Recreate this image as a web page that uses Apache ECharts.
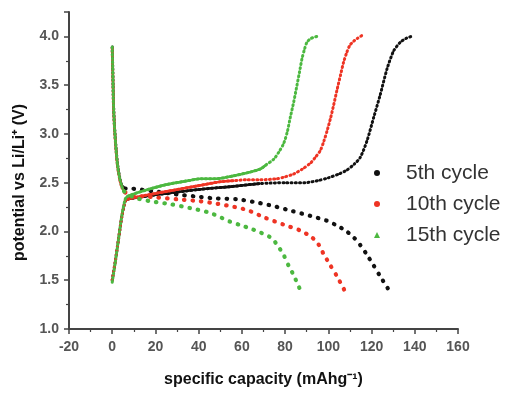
<!DOCTYPE html>
<html>
<head>
<meta charset="utf-8">
<script src="https://cdn.jsdelivr.net/npm/echarts@6/dist/echarts.min.js"></script>
<style>
html,body{margin:0;padding:0;background:#fff;}
#chart{width:513px;height:393px;}
</style>
</head>
<body>
<div id="chart"></div>
<script>
// ---- data (specific capacity mAh/g, potential V) ----
var cycleNames = ['5th cycle', '10th cycle', '15th cycle'];
var cycleColors = ['#111111', '#ee3424', '#4cb840'];
var legendIcons = ['circle', 'circle', 'triangle'];

var charge5 = [[0,1.50],[1.4,1.69],[2.9,1.92],[4.5,2.16],[6,2.31],[7,2.33],[15,2.36],[25,2.39],[40,2.43],[55,2.46],[68,2.49],[80,2.50],[89,2.50],[95,2.52],[100,2.55],[105,2.59],[108.6,2.63],[112,2.69],[114.8,2.76],[117.9,2.93],[121,3.17],[124,3.40],[127.2,3.67],[130.2,3.85],[133.3,3.94],[136,3.98],[138.5,4.00]];
var charge10 = [[0,1.50],[1.4,1.69],[2.9,1.92],[4.5,2.16],[6,2.31],[7,2.33],[20,2.39],[30,2.43],[40,2.47],[50,2.51],[56,2.52],[62,2.53],[68.5,2.53],[76,2.54],[80,2.56],[84,2.59],[88,2.64],[91.7,2.70],[94,2.76],[96.3,2.83],[98,2.93],[99.4,3.03],[101,3.16],[102.5,3.30],[104,3.45],[105.6,3.60],[107,3.73],[108.6,3.84],[110,3.91],[111.7,3.95],[113.5,3.98],[115.6,4.01]];
var charge15 = [[0,1.48],[1.4,1.68],[2.9,1.92],[4.5,2.17],[6,2.33],[7,2.36],[15,2.42],[25,2.48],[35,2.52],[41,2.54],[48,2.54],[56,2.57],[64,2.61],[68.5,2.64],[71,2.68],[74.7,2.74],[77,2.81],[79.3,2.90],[81,3.02],[82.4,3.17],[84,3.33],[85.5,3.50],[86.7,3.64],[87.8,3.77],[89,3.87],[90.1,3.94],[92,3.98],[94.8,4.00]];

var dischargeStart5 = [[0,3.89],[0.2,3.70],[0.4,3.50],[0.6,3.30],[1.0,3.10],[1.6,2.90],[2.4,2.70],[3.4,2.56],[4.5,2.47],[6,2.44]];
var dischargeStart10 = [[0,3.88],[0.2,3.68],[0.4,3.48],[0.6,3.28],[1.0,3.08],[1.6,2.88],[2.4,2.68],[3.4,2.54],[4.5,2.45],[6,2.40]];
var dischargeStart15 = [[0,3.89],[0.2,3.69],[0.4,3.49],[0.6,3.29],[1.0,3.09],[1.6,2.89],[2.4,2.69],[3.4,2.55],[4.5,2.46],[5.5,2.41]];

var discharge5 = [[6,2.44],[8.3,2.44],[13,2.43],[20,2.41],[30,2.38],[38,2.36],[47,2.34],[57.7,2.33],[66.2,2.30],[74.7,2.26],[83.2,2.21],[91.7,2.16],[99.4,2.11],[104,2.06],[107.9,2.01],[111.7,1.94],[114.8,1.86],[117.9,1.76],[121,1.65],[124,1.54],[128,1.40]];
var discharge10 = [[6,2.40],[10,2.37],[20,2.35],[30,2.33],[40.7,2.31],[47,2.29],[54.6,2.26],[62.4,2.22],[70.8,2.14],[79.3,2.07],[87,2.01],[91.7,1.95],[94.8,1.89],[97.8,1.77],[101,1.65],[104,1.54],[107.4,1.40]];
var discharge15 = [[5.5,2.41],[10,2.35],[17.6,2.31],[26.9,2.28],[36,2.24],[45.4,2.19],[54.6,2.10],[60,2.06],[64,2.03],[68.5,1.99],[72.4,1.95],[74.7,1.91],[77,1.84],[79.3,1.76],[81.6,1.65],[84,1.55],[87,1.40]];

// index range of the dense (solid-looking) plateau in each charge curve
var plateauRanges = [[4, 10], [4, 10], [4, 14]];

var xTicks = {min: -20, max: 160, interval: 20};
var yTicks = {min: 1.0, max: 4.25, interval: 0.5};

// ---- build options ----
var charges = [charge5, charge10, charge15];
var dStarts = [dischargeStart5, dischargeStart10, dischargeStart15];
var discharges = [discharge5, discharge10, discharge15];

function lineSeries(name, color, data, dash, width) {
  return {
    type: 'line', name: name, data: data,
    showSymbol: false, smooth: 0.25,
    itemStyle: {color: color},
    lineStyle: {color: color, width: width, type: dash, cap: 'round', join: 'round'},
    silent: true, z: 2
  };
}

var series = [];
for (var i = 0; i < 3; i++) {
  var n = cycleNames[i], c = cycleColors[i];
  series.push(lineSeries(n, c, charges[i], [1, 3.2], 3));
  series.push(lineSeries(n, c, charges[i].slice(plateauRanges[i][0], plateauRanges[i][1] + 1), 'solid', 2.6));
  series.push(lineSeries(n, c, dStarts[i], [1, 2.6], 3));
  series.push(lineSeries(n, c, discharges[i], [0.5, 8], 4.2));
}

var axisColor = '#444';
var labelStyle = {color: '#555', fontSize: 14, fontWeight: 'bold', fontFamily: 'Liberation Sans, Arial, sans-serif'};
var nameStyle = {color: '#111', fontSize: 16, fontWeight: 'bold', fontFamily: 'Liberation Sans, Arial, sans-serif'};

var option = {
  animation: false,
  backgroundColor: '#fff',
  grid: {left: 69, right: 55, top: 12, bottom: 58, containLabel: false},
  legend: {
    orient: 'vertical', left: 369, top: 157,
    itemWidth: 6, itemHeight: 6, itemGap: 9,
    selectedMode: false,
    textStyle: {color: '#333', fontSize: 21, lineHeight: 22, padding: [0, 0, 0, 21], fontFamily: 'Liberation Sans, Arial, sans-serif'},
    data: cycleNames.map(function (n, k) {
      return {name: n, icon: legendIcons[k], itemStyle: {color: cycleColors[k]}};
    })
  },
  xAxis: {
    type: 'value', min: xTicks.min, max: xTicks.max, interval: xTicks.interval,
    name: 'specific capacity (mAhg\u207B\u00B9)', nameLocation: 'middle', nameGap: 43,
    nameTextStyle: nameStyle,
    axisLine: {show: true, onZero: false, lineStyle: {color: axisColor, width: 2}},
    axisTick: {show: true, length: 5, lineStyle: {color: axisColor, width: 1.5}},
    minorTick: {show: true, splitNumber: 2, length: 3, lineStyle: {color: axisColor, width: 1.2}},
    splitLine: {show: false},
    axisLabel: Object.assign({margin: 11}, labelStyle)
  },
  yAxis: {
    type: 'value', min: yTicks.min, max: yTicks.max, interval: yTicks.interval,
    name: 'potential vs Li/Li\u207A (V)', nameLocation: 'middle', nameGap: 41, nameRotate: 90,
    nameTextStyle: Object.assign({padding: [0, 0, 0, -24]}, nameStyle),
    axisLine: {show: true, onZero: false, lineStyle: {color: axisColor, width: 2}},
    axisTick: {show: true, length: 5, lineStyle: {color: axisColor, width: 1.5}},
    minorTick: {show: true, splitNumber: 2, length: 3, lineStyle: {color: axisColor, width: 1.2}},
    splitLine: {show: false},
    axisLabel: Object.assign({
      margin: 10,
      formatter: function (v) {
        var r = Math.round(v / yTicks.interval) * yTicks.interval;
        return Math.abs(r - v) < 1e-6 ? v.toFixed(1) : '';
      }
    }, labelStyle)
  },
  series: series
};

var chart = echarts.init(document.getElementById('chart'), null, {renderer: 'canvas'});
chart.setOption(option);
</script>
</body>
</html>
